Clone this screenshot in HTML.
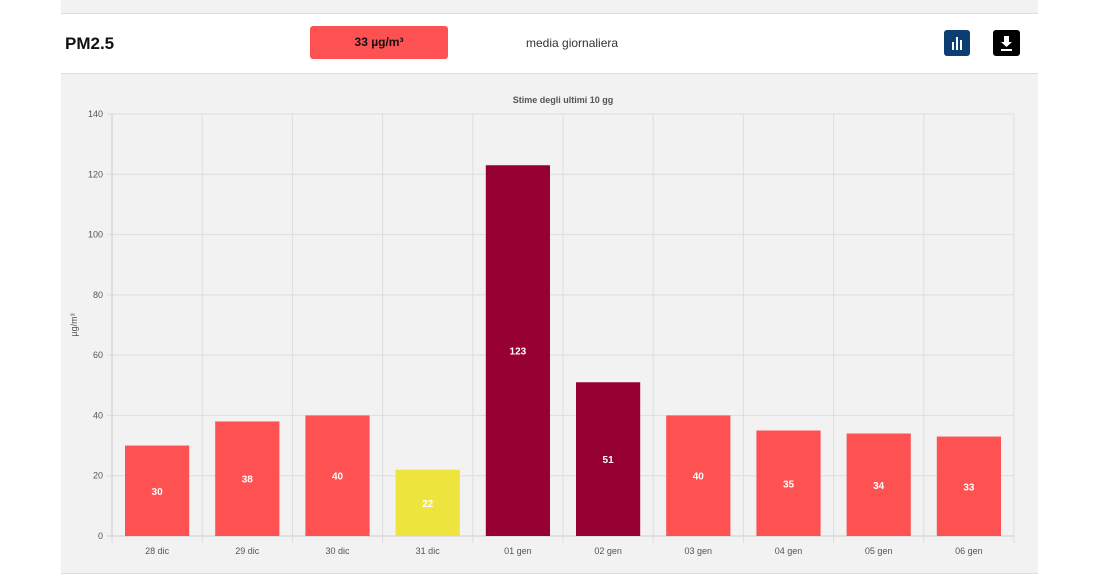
<!DOCTYPE html>
<html><head><meta charset="utf-8"><style>
body{margin:0;width:1099px;height:582px;background:#fff;font-family:"Liberation Sans",sans-serif;overflow:hidden;position:relative}
#panel{position:absolute;left:61px;top:0;width:977px;height:573px;background:#f2f2f2;border-bottom:1px solid #ddd}
#hdr{position:absolute;left:61px;top:13px;width:977px;height:59px;background:#fff;border-top:1px solid #ddd;border-bottom:1px solid #ddd}
</style></head><body>
<div id="panel"></div>
<div id="hdr">
<div style="position:absolute;left:4px;top:20px;font-size:17px;font-weight:bold;color:#111">PM2.5</div>
<div style="position:absolute;left:249px;top:12px;width:138px;height:33px;background:#fe5252;border-radius:3px;text-align:center;line-height:33px;font-size:12px;font-weight:bold;color:#111">33 µg/m³</div>
<div style="position:absolute;left:465px;top:22px;font-size:12px;color:#333">media giornaliera</div>
<div style="position:absolute;left:883px;top:16px;width:26px;height:26px;background:#0b3f73;border-radius:3px">
<svg width="26" height="26"><rect x="8" y="12" width="2" height="8" fill="#fff"/><rect x="12" y="7" width="2" height="13" fill="#fff"/><rect x="16" y="10" width="2" height="10" fill="#fff"/></svg></div>
<div style="position:absolute;left:932px;top:16px;width:27px;height:26px;background:#000;border-radius:3px">
<svg width="27" height="26"><path d="M11 6h5v6h3l-5.5 5-5.5-5h3z" fill="#fff"/><rect x="8" y="19" width="11" height="2" fill="#fff"/></svg></div>
</div>
<svg id="chart" width="1099" height="582" style="position:absolute;left:0;top:0"></svg>
<script>
const categories=["28 dic","29 dic","30 dic","31 dic","01 gen","02 gen","03 gen","04 gen","05 gen","06 gen"];
const values=[30,38,40,22,123,51,40,35,34,33];
const colors=["#fe5252","#fe5252","#fe5252","#eee43e","#960032","#960032","#fe5252","#fe5252","#fe5252","#fe5252"];
const yTicks=[0,20,40,60,80,100,120,140];
const NS="http://www.w3.org/2000/svg",svg=document.getElementById('chart');
const x0=112,x1=1014,y0=536,y1=114,yMax=140;
const bw=(x1-x0)/categories.length;
const y=v=>y0-(v/yMax)*(y0-y1);
const xc=i=>x0+bw*i;
function el(t,a,txt){const e=document.createElementNS(NS,t);for(const k in a)e.setAttribute(k,a[k]);if(txt!=null)e.textContent=txt;svg.appendChild(e);return e;}
let e=el('text',{x:563,y:103,'text-anchor':'middle','font-size':9,'font-weight':'bold',fill:'#555'},'Stime degli ultimi 10 gg');


yTicks.forEach(t=>{
 let g=el('line',{x1:x0-5,x2:x1,y1:y(t),y2:y(t),stroke:'#ddd'});
 
 
 let l=el('text',{x:103,y:y(t)+3,'text-anchor':'end','font-size':9,fill:'#555'},t);
 
 
});
for(let i=0;i<=categories.length;i++){
 let g=el('line',{x1:xc(i),x2:xc(i),y1:y1,y2:y0+7,stroke:'#ddd'});
 
 
}
el('line',{x1:x0,x2:x0,y1:y1,y2:y0,stroke:'#ccc'});
el('line',{x1:x0-5,x2:x1,y1:y0,y2:y0,stroke:'#ccc'});
categories.forEach((c,i)=>{
 const v=values[i],bx=xc(i)+13,w=bw-26;
 let b=el('rect',{x:bx,y:y(v),width:w,height:y0-y(v),fill:colors[i]});
 
 
 let t=el('text',{x:bx+w/2,y:(y(v)+y0)/2+4,'text-anchor':'middle','font-size':10,'font-weight':'bold',fill:'#fff'},v);
 
 
 let xl=el('text',{x:xc(i)+bw/2,y:554,'text-anchor':'middle','font-size':9,fill:'#555'},c);
 
 
});
e=el('text',{x:0,y:0,transform:'translate(77,325) rotate(-90)','text-anchor':'middle','font-size':9,fill:'#555'},'µg/m³');


</script>
</body></html>
